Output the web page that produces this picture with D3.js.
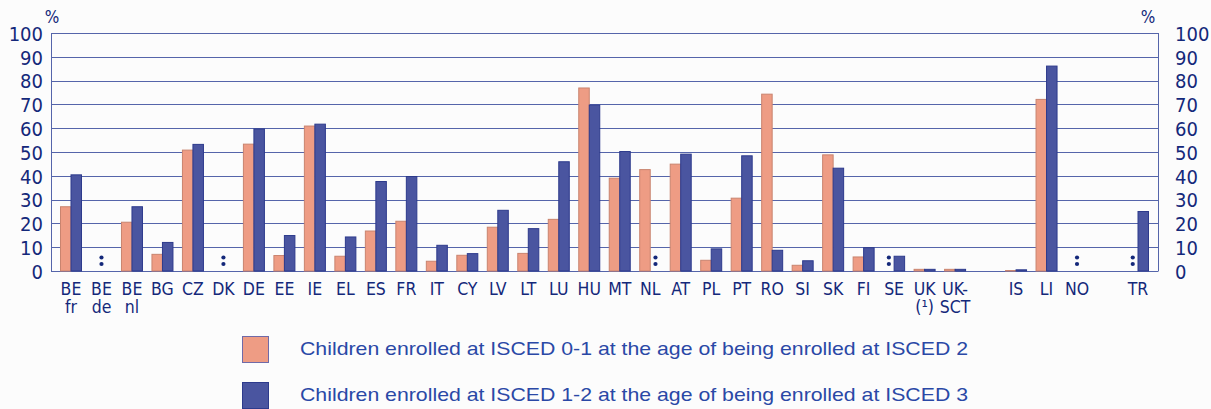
<!DOCTYPE html>
<html>
<head>
<meta charset="utf-8">
<script src="https://cdn.jsdelivr.net/npm/d3@7"></script>
<style>
  html, body { margin: 0; padding: 0; background: #fcfcfc; }
  svg { display: block; }
</style>
</head>
<body>
<svg id="chart" width="1211" height="409"></svg>
<script>
// ---- data ----
const categories = ["BE fr","BE de","BE nl","BG","CZ","DK","DE","EE","IE","EL","ES","FR","IT","CY","LV","LT","LU","HU","MT","NL","AT","PL","PT","RO","SI","SK","FI","SE","UK (1)","UK-SCT","gap1","IS","LI","NO","gap2","TR"];
const labelLine1 = ["BE","BE","BE","BG","CZ","DK","DE","EE","IE","EL","ES","FR","IT","CY","LV","LT","LU","HU","MT","NL","AT","PL","PT","RO","SI","SK","FI","SE","UK","UK-","","IS","LI","NO","","TR"];
const labelLine2 = ["fr","de","nl","","","","","","","","","","","","","","","","","","","","","","","","","","(\u00B9)","SCT","","","","","",""];
// null = data not available (":")
const isced2 = [27,null,20.5,7,50.8,null,53.3,6.5,60.9,6.2,16.8,20.9,4.1,6.6,18.4,7.4,21.7,76.9,39,42.6,44.9,4.5,30.6,74.3,2.4,48.8,5.9,null,0.7,0.7,null,0.2,72.1,null,null,null];
const isced3 = [40.4,null,27,12,53.2,null,59.7,14.9,61.7,14.3,37.6,39.7,10.8,7.3,25.5,17.8,45.9,69.7,50.2,null,49.1,9.3,48.4,8.7,4.3,43.2,9.8,6.2,0.7,0.7,null,0.5,86.1,null,null,25];
const yTicks = [0,10,20,30,40,50,60,70,80,90,100];
const seriesNames = ["Children enrolled at ISCED 0-1 at the age of being enrolled at ISCED 2",
                     "Children enrolled at ISCED 1-2 at the age of being enrolled at ISCED 3"];

// ---- styles ----
const orangeFill = "#EE9C84", orangeStroke = "#C9846F";
const blueFill = "#4A55A0", blueStroke = "#2D3A8C";
const gridColor = "#5565AA";
const textColor = "#14287A";
const legendText = "#2A48A6";
const condFont = "'Liberation Sans Narrow','DejaVu Sans Condensed','Arial Narrow',sans-serif";

const svg = d3.select("#chart");
const pLeft = 51, pRight = 1158, pTop = 33, pBottom = 271;

const x = d3.scalePoint().domain(categories).range([pLeft, pRight]).padding(0.656);
const y = d3.scaleLinear().domain([0, 100]).range([pBottom, pTop]);
const bw = 10.5;

// gridlines
svg.append("g").selectAll("line").data(yTicks).join("line")
  .attr("x1", pLeft).attr("x2", pRight)
  .attr("y1", d => Math.round(y(d)) + 0.5).attr("y2", d => Math.round(y(d)) + 0.5)
  .attr("stroke", gridColor).attr("stroke-width", 1);
// frame sides
svg.append("line").attr("x1", pLeft + 0.5).attr("x2", pLeft + 0.5).attr("y1", pTop).attr("y2", pBottom + 0.5)
  .attr("stroke", gridColor);
svg.append("line").attr("x1", pRight + 0.5).attr("x2", pRight + 0.5).attr("y1", pTop).attr("y2", pBottom + 0.5)
  .attr("stroke", gridColor);

// axes labels (left and right)
const yLeft = d3.axisLeft(y).tickValues(yTicks).tickSize(0).tickPadding(8);
const gl = svg.append("g").attr("transform", `translate(${pLeft},0)`).call(yLeft);
gl.select(".domain").remove();
gl.selectAll("text").attr("font-family", condFont).attr("font-size", 20).attr("fill", textColor).attr("dy", "0.36em");

const yRight = d3.axisRight(y).tickValues(yTicks).tickSize(0).tickPadding(17);
const gr = svg.append("g").attr("transform", `translate(${pRight},0)`).call(yRight);
gr.select(".domain").remove();
gr.selectAll("text").attr("font-family", condFont).attr("font-size", 20).attr("fill", textColor).attr("dy", "0.36em");

// % labels
svg.append("text").attr("x", 52).attr("y", 23).attr("text-anchor", "middle")
  .attr("font-family", condFont).attr("font-size", 17).attr("fill", textColor).text("%");
svg.append("text").attr("x", 1148).attr("y", 23).attr("text-anchor", "middle")
  .attr("font-family", condFont).attr("font-size", 17).attr("fill", textColor).text("%");

const rows = categories.map((c, i) => ({c, i, a: isced2[i], b: isced3[i]})).filter(d => !d.c.startsWith("gap"));

// bars
const g = svg.append("g");
g.selectAll("rect.s1").data(rows.filter(d => d.a != null)).join("rect").attr("class", "s1")
  .attr("x", d => x(d.c) - bw).attr("width", bw)
  .attr("y", d => y(d.a)).attr("height", d => y(0) - y(d.a))
  .attr("fill", orangeFill).attr("stroke", orangeStroke).attr("stroke-width", 1);
g.selectAll("rect.s2").data(rows.filter(d => d.b != null)).join("rect").attr("class", "s2")
  .attr("x", d => x(d.c)).attr("width", bw)
  .attr("y", d => y(d.b)).attr("height", d => y(0) - y(d.b))
  .attr("fill", blueFill).attr("stroke", blueStroke).attr("stroke-width", 1);

// ":" markers for missing data
const colonPos = [];
rows.forEach(d => {
  if (d.a == null && d.b == null) colonPos.push(x(d.c));
  else if (d.a == null) colonPos.push(x(d.c) - bw / 2);
  else if (d.b == null) colonPos.push(x(d.c) + bw / 2);
});
const cg = svg.append("g");
colonPos.forEach(cx => {
  cg.append("circle").attr("cx", cx).attr("cy", 257.5).attr("r", 2.1).attr("fill", textColor);
  cg.append("circle").attr("cx", cx).attr("cy", 264).attr("r", 2.1).attr("fill", textColor);
});

// x labels
const xl = svg.append("g");
rows.forEach(d => {
  const t = xl.append("text").attr("x", x(d.c)).attr("text-anchor", "middle")
    .attr("font-family", condFont).attr("font-size", 17.5).attr("fill", textColor);
  t.append("tspan").attr("x", x(d.c)).attr("y", 295).text(labelLine1[d.i]);
  if (labelLine2[d.i]) t.append("tspan").attr("x", x(d.c)).attr("y", 313).text(labelLine2[d.i]);
});

// legend
const leg = svg.append("g");
const legY = [336, 382];
const legFill = [orangeFill, blueFill];
const legStroke = ["#6F6AA8", blueStroke];
seriesNames.forEach((s, i) => {
  leg.append("rect").attr("x", 242.5).attr("y", legY[i] + 0.5).attr("width", 26).attr("height", 26)
    .attr("fill", legFill[i]).attr("stroke", legStroke[i]).attr("stroke-width", 1);
  leg.append("text").attr("x", 300).attr("y", legY[i] + 19)
    .attr("font-family", "'Liberation Sans',Arial,sans-serif").attr("font-size", 19)
    .attr("textLength", 668).attr("lengthAdjust", "spacingAndGlyphs")
    .attr("fill", legendText).text(s);
});
</script>
</body>
</html>
